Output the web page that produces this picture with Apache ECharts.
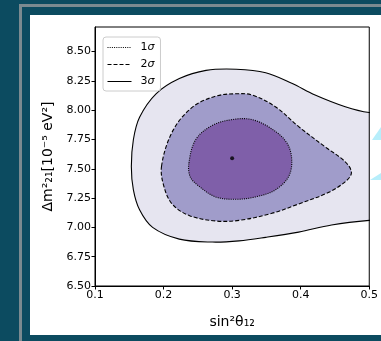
<!DOCTYPE html>
<html>
<head>
<meta charset="utf-8">
<script src="https://cdn.jsdelivr.net/npm/echarts@6/dist/echarts.min.js"></script>
<style>
  html, body { margin: 0; padding: 0; }
  #main { width: 381px; height: 341px; }
</style>
</head>
<body>
<div id="main"></div>
<script>
// contour outlines, [sin^2 theta12, dm2_21]
// (3 sigma runs past the right edge and is clipped there)
var sigma3 = [
  [0.530, 7.975], [0.500, 7.98], [0.465, 8.03], [0.421, 8.13], [0.387, 8.23], [0.349, 8.32],
  [0.306, 8.35], [0.262, 8.34], [0.223, 8.27], [0.189, 8.14], [0.165, 7.94],
  [0.156, 7.75], [0.153, 7.52], [0.156, 7.32], [0.165, 7.15], [0.184, 7.00],
  [0.223, 6.90], [0.271, 6.875], [0.310, 6.885], [0.349, 6.915], [0.397, 6.96],
  [0.445, 7.02], [0.500, 7.06], [0.530, 7.065]
];
var sigma2 = [
  [0.197, 7.52], [0.214, 7.83], [0.243, 8.03], [0.276, 8.12], [0.305, 8.14],
  [0.329, 8.13], [0.363, 8.03], [0.397, 7.86], [0.435, 7.69], [0.465, 7.56],
  [0.474, 7.47], [0.467, 7.40], [0.441, 7.30], [0.397, 7.20], [0.358, 7.12],
  [0.310, 7.06], [0.276, 7.055], [0.238, 7.10], [0.214, 7.19], [0.202, 7.32]
];
var sigma1 = [
  [0.237, 7.55], [0.247, 7.75], [0.271, 7.87], [0.300, 7.92], [0.329, 7.92],
  [0.358, 7.84], [0.380, 7.72], [0.387, 7.57], [0.382, 7.43], [0.363, 7.32],
  [0.334, 7.26], [0.305, 7.24], [0.276, 7.26], [0.252, 7.35], [0.239, 7.43]
];
var bestFit = [[0.300, 7.59]];
var yTicks = [6.5, 6.75, 7.0, 7.25, 7.5, 7.75, 8.0, 8.25, 8.5];
var levels = ['1σ', '2σ', '3σ'];

var chart = echarts.init(document.getElementById('main'), null, { renderer: 'canvas' });

var dotted = [1, 1.2], dashed = [4, 2];

function contour(name, pts, fill, dash) {
  return {
    name: name,
    type: 'custom',
    clip: true,
    z: 2,
    data: pts,
    renderItem: function (params, api) {
      if (params.dataIndex !== 0) return null;
      var p = pts.map(function (d) { return api.coord(d); });
      return {
        type: 'polygon',
        shape: { points: p, smooth: 0.35 },
        style: { fill: fill, stroke: '#000', lineWidth: 1.1, lineDash: dash }
      };
    }
  };
}

function legendLine(name) {
  return {
    name: name, type: 'line', data: [], symbol: 'none',
    itemStyle: { color: '#000' },
    lineStyle: { color: '#000', width: 1 }
  };
}

var font = 'DejaVu Sans';

option = {
  backgroundColor: '#0c4b60',
  animation: false,
  graphic: [
    { type: 'rect', shape: { x: 19, y: 4, width: 3, height: 337 }, style: { fill: '#7b8a90' }, z: -10 },
    { type: 'rect', shape: { x: 19, y: 4, width: 362, height: 3 }, style: { fill: '#7b8a90' }, z: -10 },
    { type: 'rect', shape: { x: 30, y: 15, width: 351, height: 320 }, style: { fill: '#ffffff' }, z: -10 },
    { type: 'polygon', shape: { points: [[372, 140], [381, 127], [381, 140]] }, style: { fill: '#b7eefb' }, z: -9 },
    { type: 'polygon', shape: { points: [[370, 180], [381, 173], [381, 180]] }, style: { fill: '#b7eefb' }, z: -9 }
  ],
  grid: {
    left: 95, right: 10, top: 27, bottom: 55,
    show: true, borderColor: '#000', borderWidth: 1, backgroundColor: 'transparent', z: 5
  },
  legend: {
    orient: 'vertical',
    left: 103, top: 37,
    padding: [5, 6, 4, 4],
    itemWidth: 24, itemHeight: 10, itemGap: 6,
    backgroundColor: '#fff',
    borderColor: '#cccccc', borderWidth: 1, borderRadius: 3,
    itemStyle: { opacity: 0 },
    lineStyle: { width: 1, color: '#000' },
    data: [
      { name: levels[0], lineStyle: { type: dotted, width: 1, color: '#000' } },
      { name: levels[1], lineStyle: { type: dashed, width: 1, color: '#000' } },
      { name: levels[2], lineStyle: { type: 'solid', width: 1, color: '#000' } }
    ],
    formatter: function (n) { return n.charAt(0) + '{s|σ}'; },
    textStyle: {
      fontFamily: font, fontSize: 11, color: '#000', padding: [0, 0, 0, 4],
      rich: { s: { fontFamily: font, fontSize: 11, fontStyle: 'italic', color: '#000' } }
    }
  },
  xAxis: {
    type: 'value', min: 0.1, max: 0.5, interval: 0.1,
    splitLine: { show: false },
    axisLine: { show: true, onZero: false, lineStyle: { color: '#000' } },
    axisTick: { show: true, length: 3.5, lineStyle: { color: '#000' } },
    axisLabel: { color: '#000', fontFamily: font, fontSize: 11, margin: 4,
      formatter: function (v) { return v.toFixed(1); } },
    name: 'sin²θ₁₂', nameLocation: 'middle', nameGap: 29,
    nameTextStyle: { color: '#000', fontFamily: font, fontSize: 14 }
  },
  yAxis: {
    type: 'value', min: 6.5, max: 8.71,
    splitLine: { show: false },
    axisLine: { show: true, onZero: false, lineStyle: { color: '#000' } },
    axisTick: { show: true, length: 3.5, lineStyle: { color: '#000' }, customValues: yTicks },
    axisLabel: { color: '#000', fontFamily: font, fontSize: 11, margin: 4, customValues: yTicks,
      formatter: function (v) { return v.toFixed(2); } },
    name: 'Δm²₂₁[10⁻⁵ eV²]', nameLocation: 'middle', nameGap: 37,
    nameTextStyle: { color: '#000', fontFamily: font, fontSize: 14 }
  },
  series: [
    contour('s3', sigma3, '#e6e5f0', null),
    contour('s2', sigma2, '#a09cca', dashed),
    contour('s1', sigma1, '#7f5fa9', dotted),
    {
      type: 'scatter', data: bestFit, symbolSize: 4, z: 4,
      itemStyle: { color: '#000' }
    },
    legendLine(levels[0]),
    legendLine(levels[1]),
    legendLine(levels[2])
  ]
};

chart.setOption(option);
</script>
</body>
</html>
